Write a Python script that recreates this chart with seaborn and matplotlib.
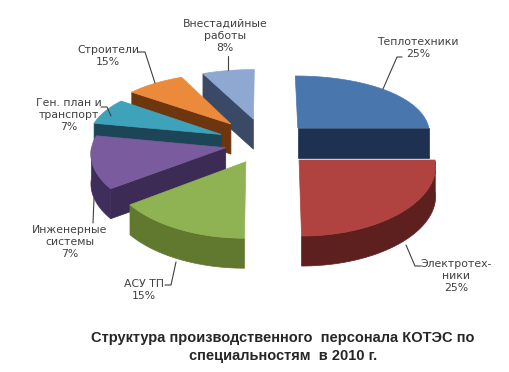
"""
Структура производственного персонала КОТЭС - объемная круговая диаграмма
"""
import numpy as np
import matplotlib
matplotlib.use("Agg")
import matplotlib.pyplot as plt
from matplotlib.patches import Polygon
import seaborn as sns

# Данные (по часовой стрелке от верхней точки)
categories = ['Теплотехники', 'Электротех-\nники', 'АСУ ТП', 'Инженерные\nсистемы',
              'Ген. план и\nтранспорт', 'Строители', 'Внестадийные\nработы']
values = [25, 25, 15, 13, 7, 8, 7]          # размеры секторов, как на рисунке
pct_labels = ['25%', '25%', '15%', '7%', '7%', '15%', '8%']   # подписи, как на рисунке

# Цвета: верх, боковая стенка, срез
top_colors = ['#4a76ae', '#b0433f', '#8fb252', '#7a5c9e', '#3fa2bb', '#ec8a3c', '#8ea8d2']
wall_colors = ['#1f3352', '#5e201f', '#60792f', '#3f2e5c', '#1d4e5e', '#7a3d12', '#3d4d68']
face_colors = ['#1e3150', '#4f1c1b', '#4f6628', '#3b2b55', '#1c4657', '#6e360f', '#3a4a66']
explode = [0.354, 0.354, 0.31, 0.30, 0.36, 0.41, 0.41]

# Геометрия (в пикселях)
CX, CY = 265, 143.5
RX, A, B, PX = 133.5, 64, 8, 0.075
DEPTH = 30

# Подписи: центр блока и линия-выноска
label_pos = [(418, 48), (456, 276), (144, 290), (70, 242), (69, 115), (108, 56), (225, 36)]
leaders = [
    [(402, 57), (397, 57), (383, 89)],
    [(421, 266), (415, 266), (406, 245)],
    [(165, 285), (171, 285), (176, 262)],
    [(93, 223), (94, 198)],
    [(101, 107), (107, 107), (111, 116)],
    [(138, 52), (145, 52), (155, 83)],
    [(228, 56), (228, 70)],
]


def project(X, Z, dy=0.0):
    x = CX + RX * X * (1 - PX * Z)
    y = CY - (A * Z - B * Z * Z) + dy
    return x, y


def build_slices():
    total = sum(values)
    angles = []
    start = 90.0
    for v in values:
        end = start - v / total * 360.0
        angles.append((start, end))
        start = end
    return angles


def draw_pie(ax):
    angles = build_slices()
    mids = [np.deg2rad((s + e) / 2) for s, e in angles]
    order = sorted(range(len(values)), key=lambda i: -np.sin(mids[i]))
    for i in order:
        s, e = angles[i]
        ox = explode[i] * np.cos(mids[i])
        oz = explode[i] * np.sin(mids[i])
        th = np.deg2rad(np.linspace(s, e, 80))
        rimX = ox + np.cos(th)
        rimZ = oz + np.sin(th)

        # радиальные срезы
        for ang in (s, e):
            normal = ang + 90 if ang == s else ang - 90
            if np.sin(np.deg2rad(normal)) < -1e-3:
                a = np.deg2rad(ang)
                p1 = project(ox, oz)
                p2 = project(ox + np.cos(a), oz + np.sin(a))
                pts = [p1, p2, (p2[0], p2[1] + DEPTH), (p1[0], p1[1] + DEPTH)]
                ax.add_patch(Polygon(pts, closed=True, facecolor=face_colors[i],
                                     edgecolor=face_colors[i], lw=0.5))

        # внешняя стенка
        vis = np.sin(th) < 0
        if vis.any():
            idx = np.where(vis)[0]
            xs, ys = project(rimX[idx], rimZ[idx])
            pts = list(zip(xs, ys)) + list(zip(xs[::-1], ys[::-1] + DEPTH))
            ax.add_patch(Polygon(pts, closed=True, facecolor=wall_colors[i],
                                 edgecolor=wall_colors[i], lw=0.5))

        # верхняя грань
        xs, ys = project(rimX, rimZ)
        c = project(ox, oz)
        pts = [c] + list(zip(xs, ys))
        ax.add_patch(Polygon(pts, closed=True, facecolor=top_colors[i],
                             edgecolor=top_colors[i], lw=0.5))


sns.set_theme(style="white")
plt.rcParams['font.family'] = ['DejaVu Sans']

fig = plt.figure(figsize=(5.1, 3.72), dpi=100)
ax = fig.add_axes([0, 0, 1, 1])
ax.set_xlim(0, 510)
ax.set_ylim(372, 0)
ax.axis('off')

draw_pie(ax)

for name, pct, (x, y), line in zip(categories, pct_labels, label_pos, leaders):
    ax.text(x, y, f"{name}\n{pct}", ha='center', va='center', fontsize=7.8,
            color='#404040', linespacing=1.25)
    lx, ly = zip(*line)
    ax.plot(lx, ly, color='#404040', lw=0.8)

ax.text(283, 347, "Структура производственного  персонала КОТЭС по\nспециальностям  в 2010 г.",
        ha='center', va='center', fontsize=10.5, fontweight='bold',
        family=['Liberation Sans', 'DejaVu Sans'], color='#262626', linespacing=1.35)

plt.savefig('out.png', dpi=100)
